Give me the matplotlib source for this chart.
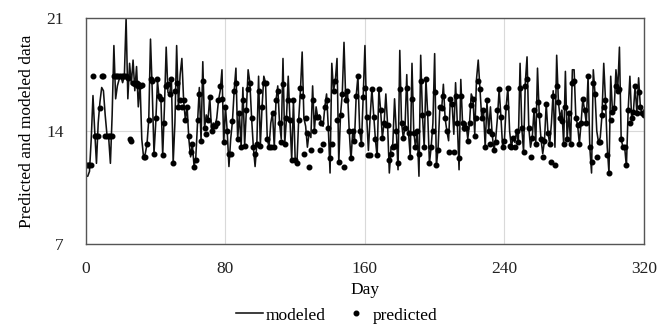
import numpy as np
import matplotlib.pyplot as plt

# daily values, day 0 .. 320
modeled = [
    11.2, 11.2, 11.5, 13.5, 16.2, 14.0, 12.0, 14.5, 15.8, 16.7,
    16.5, 15.0, 13.8, 13.6, 12.0, 15.0, 19.3, 16.0, 16.8, 17.2,
    17.4, 17.0, 17.4, 21.0, 16.0, 18.2, 16.9, 18.4, 16.5, 18.0,
    15.5, 17.0, 13.5, 12.4, 12.6, 13.2, 14.7, 19.7, 16.5, 12.6,
    14.5, 17.1, 16.0, 15.9, 12.5, 15.5, 19.2, 16.4, 16.3, 17.2,
    12.0, 14.5, 19.3, 15.5, 17.5, 18.5, 15.9, 14.7, 15.5, 13.5,
    12.4, 13.2, 11.8, 12.4, 14.5, 16.7, 13.4, 18.3, 14.2, 15.0,
    14.7, 16.1, 14.1, 14.5, 14.3, 14.8, 15.9, 16.5, 17.8, 13.2,
    15.5, 14.0, 11.8, 13.5, 14.6, 16.5, 17.9, 13.5, 15.1, 13.0,
    16.7, 13.1, 15.3, 17.8, 17.0, 14.8, 13.0, 11.8, 13.2, 17.4,
    13.1, 15.5, 17.4, 17.0, 13.5, 13.0, 14.5, 15.1, 13.0, 15.9,
    16.8, 14.5, 13.5, 18.5, 13.2, 14.8, 17.4, 14.7, 12.2, 15.9,
    12.2, 12.0, 14.7, 16.5, 18.9, 14.8, 14.3, 13.0, 13.9, 13.6,
    16.8, 14.0, 15.5, 14.8, 15.0, 14.5, 14.3, 15.5, 16.3, 14.2,
    11.4, 18.2, 16.5, 17.1, 18.5, 12.0, 15.0, 16.3, 19.5, 15.9,
    16.5, 14.0, 12.2, 14.0, 13.4, 16.2, 17.4, 14.0, 13.2, 16.1,
    19.3, 14.9, 12.8, 14.9, 16.6, 15.0, 13.5, 12.4, 16.6, 15.3,
    13.6, 14.5, 16.3, 14.4, 11.4, 13.0, 13.2, 16.0, 14.0, 11.6,
    19.0, 14.5, 13.6, 14.2, 17.5, 13.9, 12.4, 18.2, 14.0, 13.0,
    14.0, 11.2, 18.7, 15.0, 13.0, 17.2, 15.1, 12.0, 13.0, 14.5,
    18.8, 11.8, 13.0, 15.5, 15.3, 16.9, 14.8, 14.0, 13.4, 16.0,
    15.7, 13.8, 17.0, 14.5, 11.6, 17.2, 14.5, 14.0, 14.5, 13.5,
    14.5, 16.3, 16.0, 13.8, 17.2, 18.4, 16.6, 14.8, 15.3, 13.0,
    15.8, 14.0, 15.5, 13.8, 12.8, 13.5, 14.8, 16.6, 14.9, 13.0,
    13.4, 15.5, 16.7, 14.0, 13.0, 13.6, 13.3, 14.0, 13.3, 18.2,
    14.2, 12.7, 17.0, 18.6, 14.2, 13.0, 13.6, 15.3, 13.2, 17.9,
    15.0, 13.5, 12.6, 13.4, 15.7, 13.9, 13.2, 14.5, 16.5, 13.0,
    18.7, 15.8, 14.8, 15.3, 13.2, 17.7, 13.5, 15.1, 13.2, 17.8,
    17.8, 14.8, 14.4, 13.2, 14.5, 16.0, 15.3, 14.5, 17.4, 13.0,
    11.4, 17.8, 16.3, 14.0, 13.3, 13.6, 15.0, 18.2, 15.9, 13.0,
    11.4, 17.4, 15.2, 15.4, 17.8, 16.5, 19.2, 13.5, 13.0, 13.0,
    11.8, 15.3, 17.4, 14.8, 15.2, 16.8, 15.1, 17.3, 15.5, 15.0,
    15.3,
]

predicted = [
    11.9, 11.9, 11.9, 11.9, 17.4, 13.7, 13.7, 13.7, 15.4, 17.4,
    17.4, 13.7, 13.7, 13.7, 13.7, 13.7, 17.4, 17.4, 17.4, 17.4,
    17.4, 17.4, 17.4, 17.4, 17.3, 13.5, 13.4, 17.0, 16.9, 17.0,
    16.8, 16.8, 16.85, 12.4, 12.4, 13.2, 14.7, 17.2, 17.1, 12.6,
    14.8, 17.2, 16.2, 16.0, 12.5, 14.5, 16.8, 16.9, 16.3, 17.2,
    12.0, 16.5, 17.0, 15.5, 15.9, 15.5, 15.9, 14.7, 15.5, 13.7,
    12.7, 13.2, 11.8, 12.2, 14.7, 16.3, 13.4, 17.1, 14.2, 13.8,
    14.7, 16.1, 14.0, 14.3, 14.3, 14.5, 15.9, 16.8, 16.0, 13.3,
    15.5, 14.0, 12.6, 12.6, 14.6, 16.5, 17.0, 13.5, 15.1, 13.0,
    15.9, 13.1, 15.3, 16.6, 17.0, 14.8, 13.0, 12.6, 13.2, 16.5,
    13.1, 15.5, 17.0, 17.0, 13.5, 13.0, 13.0, 15.1, 13.0, 15.9,
    16.5, 14.5, 13.3, 16.9, 13.2, 14.8, 15.9, 14.7, 12.2, 15.9,
    12.2, 12.0, 14.7, 16.7, 16.2, 12.6, 14.8, 13.9, 11.8, 12.8,
    15.9, 14.0, 14.9, 14.9, 12.8, 14.5, 13.2, 15.5, 15.9, 14.2,
    12.3, 13.2, 16.5, 17.1, 14.7, 12.1, 15.0, 16.3, 11.8, 15.9,
    16.5, 14.0, 12.3, 14.0, 13.4, 16.2, 17.4, 14.0, 13.2, 16.1,
    16.7, 14.9, 12.5, 12.5, 16.6, 14.9, 13.5, 12.5, 16.6, 15.3,
    13.6, 14.5, 14.4, 14.4, 12.2, 12.6, 13.0, 13.1, 14.0, 12.0,
    16.6, 14.5, 13.6, 14.2, 16.7, 13.9, 12.4, 16.0, 13.9, 13.0,
    14.0, 12.6, 17.1, 15.0, 13.0, 17.2, 15.1, 12.0, 13.0, 14.0,
    16.4, 11.9, 12.8, 15.5, 15.4, 16.2, 14.8, 14.0, 12.7, 16.0,
    15.7, 12.7, 16.2, 14.5, 12.3, 16.2, 14.5, 14.2, 14.2, 13.4,
    14.5, 15.6, 16.0, 13.7, 14.8, 17.1, 16.6, 14.8, 15.3, 13.0,
    15.9, 14.0, 13.2, 13.8, 12.8, 13.3, 15.3, 16.6, 14.9, 13.0,
    13.4, 15.5, 16.7, 13.1, 13.0, 13.6, 13.0, 14.0, 13.3, 16.7,
    14.2, 12.7, 16.8, 17.2, 14.2, 12.4, 13.6, 15.3, 13.2, 15.8,
    15.0, 13.5, 12.4, 13.4, 15.7, 13.9, 13.2, 12.1, 16.2, 11.9,
    16.8, 15.8, 14.8, 14.6, 13.2, 15.5, 13.5, 15.1, 13.2, 17.0,
    17.1, 14.8, 14.4, 13.2, 14.5, 16.0, 15.3, 14.5, 17.4, 13.0,
    12.1, 17.0, 16.3, 12.4, 13.3, 13.3, 15.0, 15.5, 15.9, 12.5,
    11.4, 14.7, 15.2, 15.4, 16.8, 16.5, 16.6, 13.5, 13.0, 13.0,
    11.9, 15.3, 14.5, 14.8, 15.2, 16.8, 15.1, 16.4, 15.5, 15.1,
    15.0,
]

days = np.arange(len(modeled))

x_ticks = [0, 80, 160, 240, 320]
y_ticks = [7, 14, 21]


def main():
    plt.rcParams['font.family'] = ['Liberation Serif', 'DejaVu Serif']
    fig = plt.figure(figsize=(6.59, 3.24), dpi=100)
    ax = fig.add_axes([0.1305, 0.247, 0.8465, 0.697])

    ax.plot(days, modeled, color='#111111', linewidth=1.15, label='modeled')
    ax.plot(days, predicted, linestyle='none', marker='o', markersize=3.3,
            color='black', label='predicted')

    ax.set_xlim(0, 320)
    ax.set_ylim(7, 21)
    ax.set_xticks(x_ticks)
    ax.set_yticks(y_ticks)
    ax.grid(True, color='#d9d9d9', linewidth=0.8)
    ax.set_axisbelow(True)
    ax.tick_params(length=0, labelsize=12.5, colors='#222222')
    ax.tick_params(axis='y', pad=16)
    ax.tick_params(axis='x', pad=12)
    for s in ax.spines.values():
        s.set_color('#555555')
        s.set_linewidth(1.0)

    ax.set_xlabel('Day', fontsize=12.5, labelpad=4)
    ax.set_ylabel('Predicted and modeled data', fontsize=12.5, labelpad=8)

    ax.legend(loc='upper center', bbox_to_anchor=(0.45, -0.25), ncol=2,
              frameon=False, fontsize=12.5, handlelength=1.5,
              columnspacing=1.0, handletextpad=0.2, borderaxespad=0)

    fig.savefig('out.png', dpi=100)


if __name__ == "__main__":
    main()
